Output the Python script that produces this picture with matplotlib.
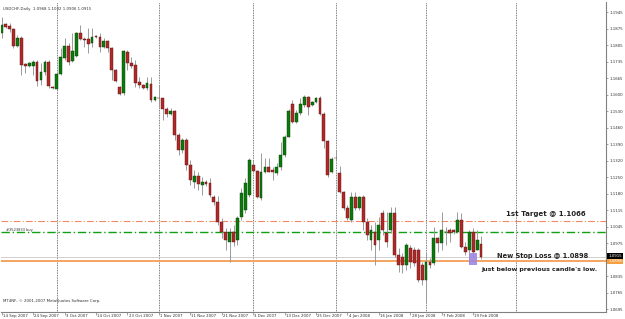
import numpy as np
import matplotlib
matplotlib.use("Agg")
from matplotlib import pyplot as plt
from matplotlib.transforms import blended_transform_factory

# USDCHF daily candles, 14 Sep 2007 .. 22 Feb 2008
opens = [1.1858, 1.1896, 1.1888, 1.1875, 1.1803, 1.1837, 1.1728, 1.1719, 1.1719, 1.1736,
         1.1660, 1.1694, 1.1736, 1.1631, 1.1622, 1.1686, 1.1753, 1.1803, 1.1740, 1.1761,
         1.1858, 1.1833, 1.1833, 1.1816, 1.1845, 1.1841, 1.1799, 1.1824, 1.1795, 1.1702,
         1.1631, 1.1606, 1.1778, 1.1732, 1.1723, 1.1652, 1.1639, 1.1627, 1.1643, 1.1576,
         1.1585, 1.1585, 1.1538, 1.1517, 1.1530, 1.1429, 1.1365, 1.1407, 1.1302, 1.1231,
         1.1256, 1.1218, 1.1231, 1.1227, 1.1168, 1.1147, 1.1062, 1.1020, 1.0978, 1.1020,
         1.0987, 1.1083, 1.1113, 1.1176, 1.1302, 1.1277, 1.1164, 1.1273, 1.1294, 1.1281,
         1.1269, 1.1294, 1.1344, 1.1420, 1.1559, 1.1484, 1.1521, 1.1555, 1.1589, 1.1555,
         1.1568, 1.1585, 1.1517, 1.1403, 1.1273, 1.1332, 1.1269, 1.1189, 1.1121, 1.1071,
         1.1168, 1.1121, 1.1168, 1.1062, 1.0987, 1.1020, 1.0987, 1.1100, 1.1016, 1.1029,
         1.1100, 1.0924, 1.0915, 1.0881, 1.0953, 1.0945, 1.0945, 1.0881, 1.0818, 1.0894,
         1.0890, 1.0995, 1.0974, 1.1020, 1.1029, 1.1029, 1.1020, 1.1071, 1.0957, 1.0945,
         1.1020, 1.0945, 1.0968]
highs = [1.1925, 1.1900, 1.1900, 1.1879, 1.1850, 1.1845, 1.1732, 1.1736, 1.1744, 1.1744,
         1.1732, 1.1744, 1.1744, 1.1635, 1.1690, 1.1795, 1.1837, 1.1816, 1.1858, 1.1862,
         1.1892, 1.1841, 1.1879, 1.1879, 1.1850, 1.1858, 1.1837, 1.1829, 1.1799, 1.1707,
         1.1635, 1.1786, 1.1786, 1.1757, 1.1744, 1.1673, 1.1643, 1.1673, 1.1673, 1.1593,
         1.1639, 1.1585, 1.1547, 1.1542, 1.1534, 1.1437, 1.1416, 1.1416, 1.1323, 1.1281,
         1.1273, 1.1252, 1.1239, 1.1248, 1.1176, 1.1172, 1.1079, 1.1037, 1.1037, 1.1050,
         1.1088, 1.1206, 1.1248, 1.1332, 1.1323, 1.1281, 1.1353, 1.1332, 1.1332, 1.1294,
         1.1311, 1.1399, 1.1429, 1.1538, 1.1576, 1.1534, 1.1585, 1.1597, 1.1593, 1.1572,
         1.1589, 1.1593, 1.1526, 1.1407, 1.1336, 1.1365, 1.1298, 1.1193, 1.1134, 1.1189,
         1.1189, 1.1172, 1.1176, 1.1079, 1.1050, 1.1062, 1.1083, 1.1113, 1.1104, 1.1126,
         1.1126, 1.0953, 1.0932, 1.0974, 1.0966, 1.0957, 1.0953, 1.0894, 1.0932, 1.0911,
         1.1041, 1.0999, 1.1104, 1.1041, 1.1037, 1.1033, 1.1104, 1.1100, 1.0978, 1.1029,
         1.1037, 1.1029, 1.1002]
lows = [1.1837, 1.1879, 1.1862, 1.1795, 1.1799, 1.1681, 1.1690, 1.1715, 1.1681, 1.1635,
        1.1639, 1.1681, 1.1627, 1.1622, 1.1618, 1.1681, 1.1744, 1.1723, 1.1736, 1.1757,
        1.1829, 1.1799, 1.1774, 1.1799, 1.1837, 1.1778, 1.1795, 1.1778, 1.1660, 1.1652,
        1.1597, 1.1597, 1.1702, 1.1711, 1.1631, 1.1627, 1.1622, 1.1618, 1.1568, 1.1572,
        1.1547, 1.1492, 1.1505, 1.1513, 1.1407, 1.1344, 1.1353, 1.1281, 1.1218, 1.1206,
        1.1197, 1.1176, 1.1214, 1.1168, 1.1134, 1.1050, 1.0995, 1.0945, 1.0894, 1.0961,
        1.0966, 1.1071, 1.1100, 1.1168, 1.1273, 1.1164, 1.1155, 1.1269, 1.1273, 1.1239,
        1.1260, 1.1281, 1.1336, 1.1420, 1.1479, 1.1479, 1.1513, 1.1547, 1.1513, 1.1551,
        1.1563, 1.1513, 1.1374, 1.1252, 1.1269, 1.1323, 1.1185, 1.1113, 1.1071, 1.1062,
        1.1113, 1.1113, 1.1029, 1.0987, 1.0945, 1.0881, 1.0945, 1.1008, 1.0957, 1.1016,
        1.0915, 1.0852, 1.0848, 1.0860, 1.0869, 1.0877, 1.0810, 1.0797, 1.0726, 1.0869,
        1.0881, 1.0936, 1.0945, 1.0966, 1.0978, 1.1012, 1.1016, 1.0953, 1.0924, 1.0890,
        1.0915, 1.0945, 1.0906]
closes = [1.1892, 1.1883, 1.1875, 1.1803, 1.1837, 1.1723, 1.1719, 1.1732, 1.1736, 1.1656,
          1.1694, 1.1736, 1.1635, 1.1627, 1.1686, 1.1757, 1.1803, 1.1736, 1.1782, 1.1858,
          1.1833, 1.1829, 1.1812, 1.1841, 1.1841, 1.1799, 1.1824, 1.1795, 1.1702, 1.1656,
          1.1601, 1.1782, 1.1732, 1.1719, 1.1648, 1.1639, 1.1627, 1.1648, 1.1576, 1.1589,
          1.1584, 1.1538, 1.1517, 1.1530, 1.1429, 1.1365, 1.1407, 1.1302, 1.1239, 1.1256,
          1.1222, 1.1231, 1.1222, 1.1176, 1.1147, 1.1062, 1.1020, 1.0987, 1.1020, 1.0978,
          1.1079, 1.1185, 1.1227, 1.1323, 1.1277, 1.1168, 1.1273, 1.1294, 1.1273, 1.1273,
          1.1294, 1.1344, 1.1420, 1.1530, 1.1484, 1.1521, 1.1559, 1.1589, 1.1547, 1.1568,
          1.1585, 1.1517, 1.1403, 1.1260, 1.1328, 1.1331, 1.1189, 1.1121, 1.1079, 1.1168,
          1.1121, 1.1168, 1.1062, 1.1008, 1.1029, 1.0966, 1.1050, 1.1029, 1.0978, 1.1100,
          1.0924, 1.0881, 1.0881, 1.0966, 1.0894, 1.0890, 1.0818, 1.0818, 1.0894, 1.0881,
          1.0995, 1.0974, 1.1029, 1.1019, 1.1016, 1.1020, 1.1071, 1.0957, 1.0936, 1.1020,
          1.0936, 1.0987, 1.0915]

date_labels = ["14 Sep 2007", "24 Sep 2007", "3 Oct 2007", "14 Oct 2007", "23 Oct 2007",
               "1 Nov 2007", "11 Nov 2007", "21 Nov 2007", "3 Dec 2007", "13 Dec 2007",
               "25 Dec 2007", "4 Jan 2008", "16 Jan 2008", "28 Jan 2008", "7 Feb 2008",
               "19 Feb 2008"]
month_starts = [14, 40, 64, 85, 108, 131]  # period separators (bar index)

price_labels = ["1.1945", "1.1875", "1.1805", "1.1735", "1.1665", "1.1600", "1.1530",
                "1.1460", "1.1390", "1.1320", "1.1250", "1.1180", "1.1115", "1.1045",
                "1.0975", "", "1.0835", "1.0765", "1.0695"]
price_top, price_bottom = 1.1945, 1.0695

bid = 1.0915
target = 1.1066
buy_price = 1.1018
stop_loss = 1.0898

n = len(opens)
idx = np.arange(n)
o = np.array(opens)
h = np.array(highs)
l = np.array(lows)
c = np.array(closes)
up = c >= o

fig = plt.figure(figsize=(6.25, 3.19), dpi=100)
ax = fig.add_axes([1 / 625, 7 / 319, 605 / 625, 310 / 319])

ax.set_xlim(-0.18, 153.8)
ax.set_ylim(1.06824, 1.19884)

# separators
for m in month_starts:
    ax.axvline(m, color="#505050", lw=0.6, ls=(0, (1, 1)), zorder=1)

# horizontal order lines
ax.axhline(target, color="#f08a66", lw=0.8, ls=(0, (6, 2, 1, 2)), zorder=1)
ax.axhline(buy_price, color="#10a010", lw=1.0, ls=(0, (6, 2, 1, 2)), zorder=1)
ax.axhline(bid, color="#c8c8c8", lw=0.6, zorder=1)
ax.axhline(stop_loss, color="#f4a460", lw=1.4, zorder=1)

# candles
ax.vlines(idx, l, h, color="#9a9a9a", lw=0.7, zorder=2)
body_lo = np.minimum(o, c)
body_h = np.maximum(np.abs(c - o), 0.00012)
ax.bar(idx[up], body_h[up], bottom=body_lo[up], width=0.72,
       color="#0b7a0b", edgecolor="#053d05", lw=0.3, zorder=3)
ax.bar(idx[~up], body_h[~up], bottom=body_lo[~up], width=0.72,
       color="#b02828", edgecolor="#5a1010", lw=0.3, zorder=3)

# highlight box under the candle
ax.add_patch(plt.Rectangle((118.9, 1.0881), 2.1, 0.0051, color="#9f86e0",
                           alpha=0.9, zorder=4, lw=0))

# annotations
ax.text(128.3, 1.1085, "1st Target @ 1.1066", fontsize=5, fontweight="bold",
        color="#222222", zorder=5)
ax.text(126.0, 1.0912, "New Stop Loss @ 1.0898", fontsize=4.8, fontweight="bold",
        color="#222222", zorder=5)
ax.text(122.0, 1.0855, "just below previous candle's low.", fontsize=4.5,
        fontweight="bold", color="#222222", zorder=5)
ax.text(1.0, buy_price + 0.0006, "#3523833 buy", fontsize=2.6, color="#303030")

ax.text(0.004, 0.985, "USDCHF,Daily  1.0968 1.1002 1.0906 1.0915",
        transform=ax.transAxes, fontsize=2.8, color="#303030", va="top")
ax.text(0.004, 0.03, "MT4NF, \u00a9 2001-2007 MetaQuotes Software Corp.",
        transform=ax.transAxes, fontsize=2.8, color="#303030", va="bottom")

# axes look
for s in ["left", "top"]:
    ax.spines[s].set_visible(False)
for s in ["right", "bottom"]:
    ax.spines[s].set_color("#808080")
    ax.spines[s].set_linewidth(0.8)

ax.yaxis.tick_right()
ax.set_yticks(np.linspace(price_top, price_bottom, len(price_labels)))
ax.set_yticklabels(price_labels)
ax.tick_params(axis="y", labelsize=2.8, labelcolor="#303030", length=1.5,
               width=0.5, color="#808080", pad=1)

tick_pos = np.arange(len(date_labels)) * 8
ax.set_xticks(tick_pos)
ax.set_xticklabels([])
ax.tick_params(axis="x", length=2.5, width=0.5, color="#808080", direction="out")
tr = blended_transform_factory(ax.transData, ax.transAxes)
for p, lab in zip(tick_pos, date_labels):
    ax.text(p + 0.3, -0.006, lab, transform=tr, fontsize=2.8, color="#303030",
            ha="left", va="top")

# price boxes on the right axis
trp = blended_transform_factory(ax.transAxes, ax.transData)
ax.text(1.004, stop_loss - 0.0001, "1.0898", transform=trp, fontsize=2.8,
        color="white", va="center", ha="left",
        bbox=dict(boxstyle="square,pad=0.25", fc="#f5a040", ec="none"))
ax.text(1.004, bid + 0.0002, "1.0915", transform=trp, fontsize=2.8,
        color="white", va="center", ha="left",
        bbox=dict(boxstyle="square,pad=0.25", fc="black", ec="none"))

fig.savefig("out.png", dpi=100)
